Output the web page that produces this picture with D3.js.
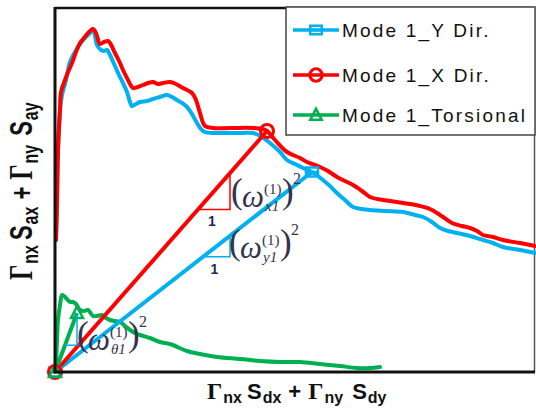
<!DOCTYPE html>
<html><head><meta charset="utf-8">
<script src="https://cdn.jsdelivr.net/npm/d3@7"></script>
<style>html,body{margin:0;padding:0;background:#fff;}svg{display:block;}</style>
</head><body>
<svg id="chart" width="536" height="415"></svg>
<script>
// ---- data (Sd in cm on x, Sa in g on y) ----
const seriesNames = ["Mode 1_Y Dir.", "Mode 1_X Dir.", "Mode 1_Torsional"];
const seriesColors = ["#00B0F0", "#FF0000", "#00B050"];

const yDirSd = [0.1,0.2,0.3,0.5,0.7,1.1,1.5,2.0,2.5,3.0,3.4,3.8,4.0,4.2,4.6,4.9,5.2,5.5,6.0,6.4,6.8,7.2,7.5,7.7,8.1,8.5,9.2,9.8,10.5,11.2,11.7,12.2,12.7,13.2,13.7,14.2,14.6,15.0,16.2,18.5,19.8,20.7,21.5,22.5,23.2,24.0,24.8,25.7,26.3,26.8,27.5,28.2,29.0,29.8,30.7,31.5,33.0,34.8,36.0,36.8,37.7,38.5,39.3,40.2,41.5,42.8,43.8,44.8,46.5,48.0];
const yDirSa = [1.32,1.72,2.22,2.62,2.77,2.92,3.10,3.20,3.28,3.34,3.38,3.42,3.36,3.27,3.22,3.21,3.22,3.17,3.06,2.97,2.89,2.80,2.70,2.66,2.68,2.70,2.71,2.73,2.75,2.77,2.75,2.72,2.69,2.65,2.58,2.49,2.43,2.40,2.39,2.39,2.39,2.35,2.29,2.20,2.12,2.08,2.04,2.00,1.96,1.92,1.86,1.79,1.72,1.65,1.63,1.62,1.61,1.60,1.57,1.55,1.50,1.44,1.41,1.39,1.36,1.32,1.29,1.25,1.22,1.19];

const xDirSd = [0.1,0.2,0.3,0.5,0.6,1.0,1.3,1.7,2.1,2.5,2.9,3.3,3.6,3.8,4.0,4.2,4.5,4.9,5.3,5.5,6.0,6.5,6.8,7.3,7.8,8.3,8.8,9.3,9.8,10.3,10.8,11.5,12.1,12.8,13.7,14.1,14.5,15.0,15.8,17.5,19.8,20.7,21.2,22.0,23.2,24.5,25.2,26.5,27.3,28.2,29.0,29.8,30.7,31.5,32.8,34.2,35.5,36.5,37.5,38.2,38.8,39.7,40.7,41.5,42.2,42.8,43.8,44.8,46.5,48.0];
const xDirSa = [1.32,1.72,2.22,2.62,2.80,2.92,3.00,3.09,3.20,3.29,3.34,3.39,3.42,3.43,3.41,3.36,3.28,3.30,3.31,3.29,3.19,3.09,3.02,2.92,2.84,2.85,2.87,2.89,2.90,2.88,2.89,2.90,2.88,2.84,2.79,2.72,2.59,2.46,2.44,2.44,2.44,2.43,2.41,2.32,2.20,2.14,2.10,2.05,2.01,1.95,1.91,1.87,1.81,1.75,1.72,1.70,1.68,1.66,1.63,1.59,1.55,1.49,1.46,1.44,1.41,1.37,1.35,1.32,1.29,1.26];

const torSd = [0.1,0.2,0.3,0.5,0.7,0.9,1.1,1.5,1.8,2.1,2.5,2.9,3.3,3.8,4.2,4.7,5.1,5.5,6.0,6.5,7.0,7.5,8.0,8.5,9.5,10.5,11.5,13.2,14.5,16.2,18.5,20.5,22.5,24.5,26.5,28.5,30.2,31.5,32.5];
const torSa = [0.07,0.32,0.52,0.67,0.77,0.76,0.74,0.70,0.70,0.68,0.62,0.61,0.62,0.56,0.56,0.57,0.54,0.52,0.51,0.50,0.46,0.42,0.39,0.37,0.34,0.30,0.28,0.21,0.18,0.15,0.13,0.11,0.10,0.10,0.08,0.06,0.04,0.04,0.05];

// performance points (mode 1 for each direction): [Sd, Sa]
const pointSd = [25.7, 21.2, 2.2];
const pointSa = [2.00, 2.41, 0.59];
// slope-triangle run limits along each radial line
const triStart = [14.8, 14.3, 1.0];
const triEnd = [17.5, 17.5, 2.2];
const omegaSubs = ["y1", "x1", "θ1"];

// ---- layout ----
const svg = d3.select("#chart");
const x = d3.scaleLinear().domain([0, 48]).range([55, 535]);
const y = d3.scaleLinear().domain([0, 3.64]).range([372, 8]);

// frame
svg.append("line").attr("x1", 55).attr("x2", 535).attr("y1", 8).attr("y2", 8).attr("stroke", "#111").attr("stroke-width", 2.5);
svg.append("line").attr("x1", 534.5).attr("x2", 534.5).attr("y1", 8).attr("y2", 372).attr("stroke", "#555").attr("stroke-width", 1.5);

const line = d3.line().x(d => x(d[0])).y(d => y(d[1])).curve(d3.curveCatmullRom.alpha(0.5));
const curves = [
  d3.zip(yDirSd, yDirSa),
  d3.zip(xDirSd, xDirSa),
  d3.zip(torSd, torSa)
];

function marker(g, i, cx, cy, s) {
  const c = seriesColors[i];
  if (i === 0) {
    g.append("rect").attr("x", cx - 6*s).attr("y", cy - 4.5*s).attr("width", 12*s).attr("height", 9*s)
      .attr("fill", "none").attr("stroke", c).attr("stroke-width", 2.5);
    g.append("line").attr("x1", cx - 6*s).attr("x2", cx + 6*s).attr("y1", cy).attr("y2", cy).attr("stroke", c).attr("stroke-width", 2.5);
  } else if (i === 1) {
    g.append("circle").attr("cx", cx).attr("cy", cy).attr("r", 6.5*s)
      .attr("fill", "none").attr("stroke", c).attr("stroke-width", 3);
  } else {
    g.append("path").attr("d", `M${cx},${cy-6.5*s}L${cx+6*s},${cy+5*s}L${cx-6*s},${cy+5*s}Z`)
      .attr("fill", "none").attr("stroke", c).attr("stroke-width", 2.5);
  }
}

const plot = svg.append("g");
[0, 1, 2].forEach(i => {
  plot.append("path").datum(curves[i]).attr("d", line)
    .attr("fill", "none").attr("stroke", seriesColors[i]).attr("stroke-width", 4)
    .attr("stroke-linejoin", "round").attr("stroke-linecap", "round");
});
// radial lines
[0, 1, 2].forEach(i => {
  plot.append("line").attr("x1", x(0)).attr("y1", y(0)).attr("x2", x(pointSd[i])).attr("y2", y(pointSa[i]))
    .attr("stroke", seriesColors[i]).attr("stroke-width", 4);
});
// markers at origin and at points
[0, 1, 2].forEach(i => marker(plot, i, x(0), y(0), 1));
[0, 1, 2].forEach(i => marker(plot, i, x(pointSd[i]), y(pointSa[i]), 1));

// slope triangles
const triColors = ["#00B0F0", "#FF0000", "#00B0F0"];
[0, 1, 2].forEach(i => {
  const k = pointSa[i] / pointSd[i];
  const x0 = x(triStart[i]), x1 = x(triEnd[i]);
  const y0 = y(k * triStart[i]), y1 = y(k * triEnd[i]);
  plot.append("path").attr("d", `M${x0},${y0}L${x1},${y0}L${x1},${y1}`)
    .attr("fill", "none").attr("stroke", triColors[i]).attr("stroke-width", 1.5);
});

// omega labels (single text element each)
const tc = "#33334d";
function omega(x0, base, sub) {
  const t = svg.append("text").attr("font-family", "'Liberation Serif', 'Times New Roman', serif").attr("fill", tc);
  t.append("tspan").attr("x", x0).attr("y", base).attr("font-size", 35).text("(");
  t.append("tspan").attr("x", x0 + 11).attr("y", base + 4).attr("font-size", 31).attr("font-style", "italic").text("ω");
  t.append("tspan").attr("x", x0 + 33).attr("y", base - 9).attr("font-size", 15).text("(1)");
  t.append("tspan").attr("x", x0 + 34).attr("y", base + 8).attr("font-size", 15).attr("font-style", "italic").text(sub);
  t.append("tspan").attr("x", x0 + 51).attr("y", base).attr("font-size", 35).text(")");
  t.append("tspan").attr("x", x0 + 62).attr("y", base - 19).attr("font-size", 16).text("2");
}
omega(x(triEnd[1]) + 1, 203, omegaSubs[1]);
omega(x(triEnd[0]) - 1, 254, omegaSubs[0]);
omega(77, 346, omegaSubs[2]);
// "1" run labels
[1, 0].forEach(i => {
  const k = pointSa[i] / pointSd[i];
  svg.append("text").attr("x", (x(triStart[i]) + x(triEnd[i])) / 2 - 2).attr("y", y(k * triStart[i]) + 17)
    .attr("text-anchor", "middle").attr("font-family", "'Liberation Sans', Arial, sans-serif")
    .attr("font-weight", "bold").attr("font-size", 14).attr("fill", "#1f2a50").text("1");
});

// axes lines (left and bottom)
svg.append("line").attr("x1", 55).attr("x2", 55).attr("y1", 7).attr("y2", 373.5).attr("stroke", "#111").attr("stroke-width", 3);
svg.append("line").attr("x1", 53.5).attr("x2", 535).attr("y1", 372).attr("y2", 372).attr("stroke", "#111").attr("stroke-width", 3);

// legend
const lg = svg.append("g");
lg.append("rect").attr("x", 286).attr("y", 7).attr("width", 249).attr("height", 128)
  .attr("fill", "#fff").attr("stroke", "#444").attr("stroke-width", 1.5);
const legendY = [30, 75, 115];
seriesNames.forEach((name, i) => {
  lg.append("line").attr("x1", 293).attr("x2", 339).attr("y1", legendY[i]).attr("y2", legendY[i])
    .attr("stroke", seriesColors[i]).attr("stroke-width", 3.5);
  marker(lg, i, 316, legendY[i], 0.95);
  lg.append("text").attr("x", 342).attr("y", legendY[i] + 7).attr("font-family", "'Liberation Sans', Arial, sans-serif")
    .attr("font-size", 19).attr("letter-spacing", 2.2).attr("fill", "#111").text(name);
});

// axis titles
function axisTitle(g, parts) {
  const t = g.append("text").attr("fill", "#111");
  parts.forEach(p => {
    const ts = t.append("tspan").text(p.t);
    if (p.serif) ts.attr("font-family", "'Liberation Serif', 'Times New Roman', serif").attr("font-size", 24).attr("font-weight", "bold");
    else ts.attr("font-family", "'Liberation Sans', Arial, sans-serif").attr("font-weight", "bold").attr("font-size", p.sub ? 16 : 22);
    if (p.dy) ts.attr("dy", p.dy);
    if (p.dx) ts.attr("dx", p.dx);
  });
  return t;
}
function titleParts(a) {
  return [
    {t: "Γ", serif: true}, {t: "nx", sub: true, dy: 4, dx: 1}, {t: "S", dy: -4, dx: 5}, {t: a + "x", sub: true, dy: 4, dx: 1},
    {t: "+", dy: -4, dx: 7}, {t: "Γ", serif: true, dx: 7}, {t: "ny", sub: true, dy: 4, dx: 1}, {t: "S", dy: -4, dx: 9}, {t: a + "y", sub: true, dy: 4, dx: 1}
  ];
}
axisTitle(svg.append("g").attr("transform", "translate(207,399)"), titleParts("d"));
axisTitle(svg.append("g").attr("transform", "translate(32,280) rotate(-90) scale(1,1.4)"), titleParts("a"));
</script>
</body></html>
